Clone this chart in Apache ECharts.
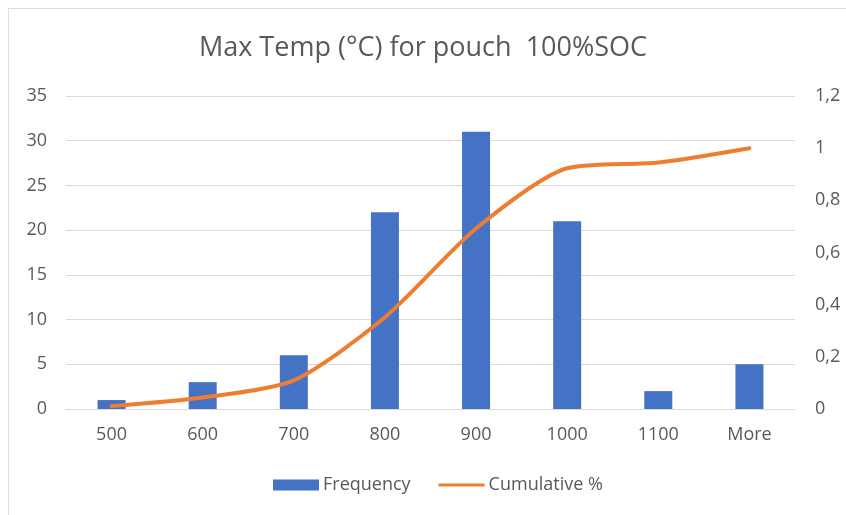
<!DOCTYPE html>
<html>
<head>
<meta charset="utf-8">
<script src="https://cdn.jsdelivr.net/npm/echarts@6/dist/echarts.min.js"></script>
<style>
  html, body { margin: 0; padding: 0; background: #fff; overflow: hidden; }
  #wrap { position: relative; width: 846px; height: 515px; overflow: hidden; }
  #frame { position: absolute; left: 8px; top: 8px; width: 900px; height: 600px; border: 1px solid #dedede; box-sizing: border-box; }
  #chart { position: absolute; left: 0; top: 0; width: 846px; height: 515px; }
</style>
</head>
<body>
<div id="wrap">
  <div id="frame"></div>
  <div id="chart"></div>
</div>
<script>
var categories = ['500', '600', '700', '800', '900', '1000', '1100', 'More'];
var frequency = [1, 3, 6, 22, 31, 21, 2, 5];
var cumulative = [0.011, 0.044, 0.11, 0.352, 0.692, 0.923, 0.945, 1.0];

var myChart = echarts.init(document.getElementById('chart'));

var textColor = '#595959';
var font = 'Open Sans, Noto Sans, sans-serif';

var option = {
    animation: false,
    title: {
        text: 'Max Temp (°C) for pouch  100%SOC',
        left: 'center',
        top: 30,
        textStyle: { color: textColor, fontSize: 27, fontWeight: 'normal', fontFamily: font }
    },
    legend: {
        top: 471,
        left: 268,
        itemGap: 28,
        itemWidth: 46,
        itemHeight: 11,
        textStyle: { color: textColor, fontSize: 18, fontFamily: font, padding: [0, 0, 0, -1] },
        data: [
            { name: 'Frequency', icon: 'rect' },
            { name: 'Cumulative %', icon: 'path://M0,4 L48,4 L48,7 L0,7 Z' }
        ]
    },
    grid: { left: 66, right: 51, top: 96, bottom: 106 },
    xAxis: {
        type: 'category',
        data: categories,
        axisLine: { lineStyle: { color: '#d9d9d9' } },
        axisTick: { show: false },
        axisLabel: { color: textColor, fontSize: 18, fontFamily: font, margin: 17 }
    },
    yAxis: [
        {
            type: 'value',
            min: 0, max: 35, interval: 5,
            axisLine: { show: false },
            axisTick: { show: false },
            splitLine: { lineStyle: { color: '#d9d9d9' } },
            axisLabel: { color: textColor, fontSize: 18, fontFamily: font, margin: 19 }
        },
        {
            type: 'value',
            min: 0, max: 1.2, interval: 0.2,
            axisLine: { show: false },
            axisTick: { show: false },
            splitLine: { show: false },
            axisLabel: {
                color: textColor, fontSize: 18, fontFamily: font, margin: 20,
                formatter: function (v) { return String(+v.toFixed(1)).replace('.', ','); }
            }
        }
    ],
    series: [
        {
            name: 'Frequency',
            type: 'bar',
            data: frequency,
            barWidth: 28,
            itemStyle: { color: '#4472C4' }
        },
        {
            name: 'Cumulative %',
            type: 'line',
            yAxisIndex: 1,
            data: cumulative,
            smooth: 0.25,
            symbol: 'none',
            lineStyle: { color: '#ED7D31', width: 4, cap: 'round' },
            itemStyle: { color: '#ED7D31' }
        }
    ]
};

myChart.setOption(option);
</script>
</body>
</html>
